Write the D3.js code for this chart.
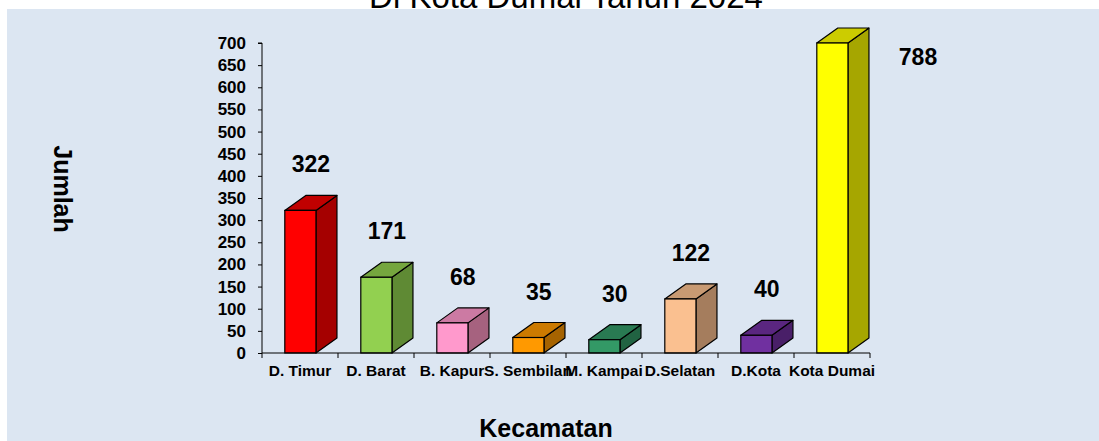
<!DOCTYPE html>
<html>
<head>
<meta charset="utf-8">
<script src="https://cdn.jsdelivr.net/npm/d3@7"></script>
<style>
    body { margin: 0; background: #ffffff; }
    svg { display: block; font-family: Arial, "Liberation Sans", sans-serif; }
</style>
</head>
<body>
<div id="chart"></div>
<script>
const WIDTH = 1099;
const HEIGHT = 441;

// data
const categories = ["D. Timur", "D. Barat", "B. Kapur", "S. Sembilan", "M. Kampai", "D.Selatan", "D.Kota", "Kota Dumai"];
const values = [322, 171, 68, 35, 30, 122, 40, 788];
const frontColors = ["#ff0000", "#92d050", "#ff99cc", "#ff9900", "#339966", "#fac090", "#7030a0", "#ffff00"];
const topColors = ["#c00000", "#75a63e", "#cc7aa3", "#cc7a00", "#297a52", "#c89a73", "#5a2680", "#cccc00"];
const sideColors = ["#a50000", "#5f8a34", "#a6627f", "#a66300", "#216342", "#a57d5d", "#491f68", "#a6a600"];
const yTicks = d3.range(0, 701, 50);

const margin = {top: 43, left: 262, right: 229, bottom: 88};
const depthX = 21, depthY = 15;

const svg = d3.select("#chart").append("svg")
    .attr("width", WIDTH)
    .attr("height", HEIGHT);

// background panel
svg.append("rect")
    .attr("x", 7).attr("y", 9)
    .attr("width", WIDTH - 7).attr("height", HEIGHT - 9)
    .attr("fill", "#dce6f2");

svg.append("text")
    .attr("x", 566).attr("y", 7.5)
    .attr("text-anchor", "middle")
    .style("font-size", "33px")
    .text("Di Kota Dumai Tahun 2024");

const x = d3.scaleBand()
    .domain(categories)
    .range([margin.left, WIDTH - margin.right]);

const y = d3.scaleLinear()
    .domain([0, 700])
    .range([HEIGHT - margin.bottom, margin.top])
    .clamp(true);

const data = categories.map((c, i) => ({
    key: c, value: values[i],
    front: frontColors[i], top: topColors[i], side: sideColors[i]
}));

const bw = x.bandwidth();
const fx = d => x(d.key) + bw * 0.3;
const fw = bw * 0.41;
const y0 = y(0);

const bars = svg.append("g").attr("class", "bars")
    .selectAll("g")
    .data(data)
    .enter().append("g");

// side face
bars.append("path")
    .attr("d", d => {
        const x1 = fx(d) + fw, yt = y(d.value);
        return `M${x1},${y0} L${x1 + depthX},${y0 - depthY} L${x1 + depthX},${yt - depthY} L${x1},${yt} Z`;
    })
    .attr("fill", d => d.side)
    .attr("stroke", "#000").attr("stroke-width", 1.2).attr("stroke-linejoin", "round");

// top face
bars.append("path")
    .attr("d", d => {
        const x0 = fx(d), yt = y(d.value);
        return `M${x0},${yt} L${x0 + depthX},${yt - depthY} L${x0 + fw + depthX},${yt - depthY} L${x0 + fw},${yt} Z`;
    })
    .attr("fill", d => d.top)
    .attr("stroke", "#000").attr("stroke-width", 1.2).attr("stroke-linejoin", "round");

// front face
bars.append("rect")
    .attr("x", d => fx(d))
    .attr("y", d => y(d.value))
    .attr("width", fw)
    .attr("height", d => y0 - y(d.value))
    .attr("fill", d => d.front)
    .attr("stroke", "#000").attr("stroke-width", 1.2);

// value labels (the clipped bar gets its label to the right)
bars.append("text")
    .attr("text-anchor", "middle")
    .style("font-size", "23px")
    .style("font-weight", "bold")
    .attr("x", d => d.value > 700 ? x(d.key) + bw / 2 + 86 : fx(d) + (fw + depthX) / 2)
    .attr("y", d => d.value > 700 ? y(700) + 22 : y(d.value) - 38)
    .text(d => d.value);

// axes
const yAxis = d3.axisLeft(y).tickValues(yTicks).tickSize(4).tickPadding(12);
const gy = svg.append("g")
    .attr("transform", `translate(${margin.left},0)`)
    .call(yAxis);
gy.select(".domain").attr("d", `M-4,${y(700)}H0V${y0}`);
gy.selectAll("text").style("font-size", "17px").style("font-weight", "bold").attr("fill", "#000");

const xAxis = d3.axisBottom(x).tickSize(0).tickPadding(12);
const gx = svg.append("g")
    .attr("transform", `translate(0,${y0})`)
    .call(xAxis);
gx.select(".domain").attr("d", `M${margin.left},0H${WIDTH - margin.right}`);
gx.selectAll("text").style("font-size", "15.5px").style("font-weight", "bold").attr("fill", "#000").attr("dy", "0.71em");
// tick marks on category boundaries
gx.selectAll(".bound")
    .data(categories.concat(["end"]))
    .enter().append("line")
    .attr("class", "bound")
    .attr("x1", (d, i) => margin.left + i * bw)
    .attr("x2", (d, i) => margin.left + i * bw)
    .attr("y1", 0).attr("y2", 5)
    .attr("stroke", "#000");
svg.selectAll(".domain, .tick line").attr("stroke", "#000");

// axis titles
svg.append("text")
    .attr("transform", "translate(54,189) rotate(90)")
    .attr("text-anchor", "middle")
    .style("font-size", "25px")
    .style("font-weight", "bold")
    .text("Jumlah");

svg.append("text")
    .attr("x", 546).attr("y", 437)
    .attr("text-anchor", "middle")
    .style("font-size", "25px")
    .style("font-weight", "bold")
    .text("Kecamatan");
</script>
</body>
</html>
